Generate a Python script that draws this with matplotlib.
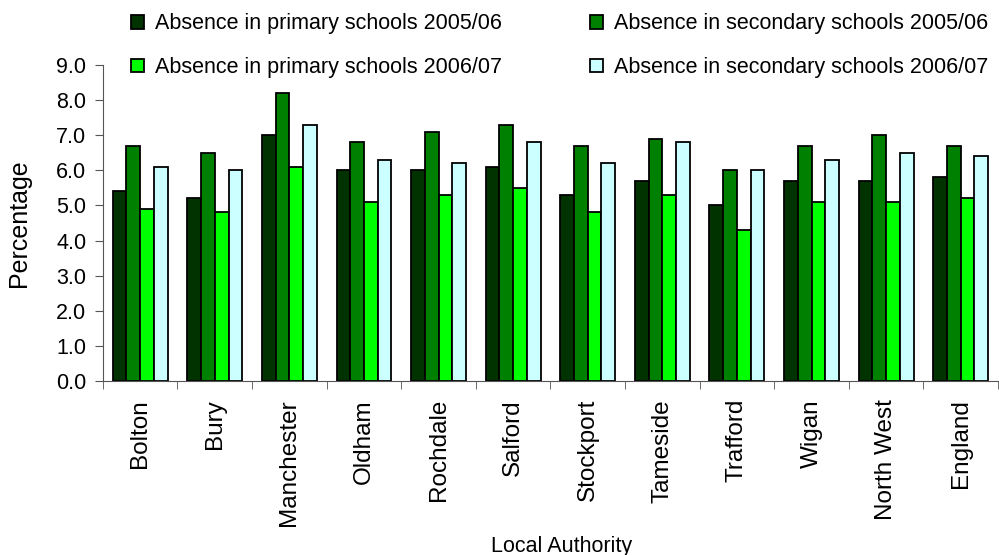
import numpy as np
import matplotlib
matplotlib.use("Agg")
import matplotlib.pyplot as plt

plt.rcParams['font.family'] = ['Liberation Sans', 'DejaVu Sans']

authorities = ["Bolton", "Bury", "Manchester", "Oldham", "Rochdale", "Salford",
               "Stockport", "Tameside", "Trafford", "Wigan", "North West", "England"]
primary_0506 = [5.4, 5.2, 7.0, 6.0, 6.0, 6.1, 5.3, 5.7, 5.0, 5.7, 5.7, 5.8]
secondary_0506 = [6.7, 6.5, 8.2, 6.8, 7.1, 7.3, 6.7, 6.9, 6.0, 6.7, 7.0, 6.7]
primary_0607 = [4.9, 4.8, 6.1, 5.1, 5.3, 5.5, 4.8, 5.3, 4.3, 5.1, 5.1, 5.2]
secondary_0607 = [6.1, 6.0, 7.3, 6.3, 6.2, 6.8, 6.2, 6.8, 6.0, 6.3, 6.5, 6.4]

series = [
    ("Absence in primary schools 2005/06", primary_0506, "#003300"),
    ("Absence in secondary schools 2005/06", secondary_0506, "#008000"),
    ("Absence in primary schools 2006/07", primary_0607, "#00FF00"),
    ("Absence in secondary schools 2006/07", secondary_0607, "#CCFFFF"),
]
yticks = np.arange(0, 9.01, 1.0)

fig = plt.figure(figsize=(9.99, 5.55), dpi=100)
ax = fig.add_axes([0.103, 0.3135, 0.896, 0.5695])

x = np.arange(len(authorities))
bw = 0.184
handles = {}
for i, (name, vals, col) in enumerate(series):
    off = (i - 1.5) * bw
    b = ax.bar(x + off, vals, width=bw, color=col, edgecolor="black", linewidth=1.3, label=name)
    handles[name] = b

ax.set_xlim(-0.5, len(authorities) - 0.5)
ax.set_ylim(0, 9)
ax.set_yticks(yticks)
ax.set_yticklabels([f"{v:.1f}" for v in yticks], fontsize=15.5)
ax.set_xticks(x)
ax.set_xticklabels(authorities, rotation=90, fontsize=17.5)
ax.tick_params(axis='x', length=0, pad=13)
ax.set_xticks(np.arange(-0.5, len(authorities), 1.0), minor=True)
ax.tick_params(axis='x', which='minor', length=6, direction='out', color='#555555')
ax.tick_params(axis='y', length=6, direction='out', color='#555555', pad=6)
for s in ["top", "right"]:
    ax.spines[s].set_visible(False)
for s in ["left", "bottom"]:
    ax.spines[s].set_color("#555555")

ax.set_ylabel("Percentage", fontsize=18, labelpad=18)
ax.set_xlabel("Local Authority", fontsize=15.5)
ax.xaxis.set_label_coords(0.512, -0.49)

order = [series[0][0], series[2][0], series[1][0], series[3][0]]
fig.legend([handles[n] for n in order], order, ncol=2, loc="upper left",
           bbox_to_anchor=(0.116, 1.003), frameon=False, fontsize=15.5,
           handlelength=0.6, handleheight=0.6, handletextpad=0.5,
           columnspacing=4.1, labelspacing=1.05, borderaxespad=0.3)

fig.savefig("out.png", dpi=100)
